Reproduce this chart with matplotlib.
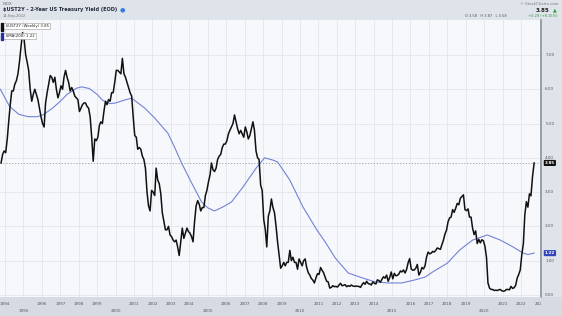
import matplotlib.pyplot as plt
import matplotlib.dates as mdates
from matplotlib.patches import Rectangle
import pandas as pd

# weekly close of the 2-year yield
start_month = "1993-10"
ust2y = [
    3.85, 4.10, 4.20,  # 1993
    4.15, 4.55, 5.05, 5.55, 5.95, 5.95, 6.15, 6.25, 6.45, 6.80, 7.25, 7.65,  # 1994
    7.45, 7.00, 6.80, 6.55, 6.00, 5.65, 5.85, 6.00, 5.85, 5.70, 5.45, 5.20,  # 1995
    5.00, 4.90, 5.60, 5.90, 6.15, 6.40, 6.35, 6.20, 6.35, 6.00, 5.75, 5.90,  # 1996
    6.10, 6.00, 6.35, 6.55, 6.35, 6.20, 5.95, 6.05, 5.95, 5.80, 5.75, 5.70,  # 1997
    5.35, 5.45, 5.55, 5.60, 5.60, 5.50, 5.45, 5.20, 4.60, 3.90, 4.55, 4.50,  # 1998
    4.60, 4.95, 5.05, 5.00, 5.35, 5.65, 5.55, 5.70, 5.65, 5.90, 5.90, 6.20,  # 1999
    6.55, 6.55, 6.50, 6.45, 6.90, 6.45, 6.35, 6.20, 6.05, 5.90, 5.80, 5.20,  # 2000
    4.65, 4.60, 4.25, 4.30, 4.25, 4.05, 3.95, 3.70, 3.00, 2.60, 2.45, 3.05,  # 2001
    3.00, 2.90, 3.70, 3.35, 3.25, 2.95, 2.40, 2.15, 1.90, 1.90, 2.00, 1.75,  # 2002
    1.70, 1.60, 1.55, 1.60, 1.40, 1.15, 1.55, 1.95, 1.65, 1.80, 1.95, 1.85,  # 2003
    1.80, 1.70, 1.55, 2.15, 2.60, 2.75, 2.65, 2.45, 2.55, 2.55, 2.90, 3.05,  # 2004
    3.30, 3.50, 3.85, 3.65, 3.60, 3.70, 3.95, 4.05, 4.10, 4.30, 4.40, 4.40,  # 2005
    4.50, 4.70, 4.80, 4.90, 5.00, 5.25, 5.05, 4.85, 4.70, 4.80, 4.70, 4.60,  # 2006
    4.90, 4.75, 4.55, 4.65, 4.85, 5.05, 4.80, 4.20, 4.00, 3.95, 3.20, 3.05,  # 2007
    2.20, 1.90, 1.40, 2.30, 2.45, 2.80, 2.55, 2.40, 2.00, 1.55, 1.15, 0.78,  # 2008
    0.85, 0.95, 0.85, 0.95, 0.95, 1.30, 1.00, 1.10, 0.95, 0.95, 0.75, 1.05,  # 2009
    0.95, 0.85, 1.00, 1.05, 0.80, 0.65, 0.58, 0.48, 0.43, 0.35, 0.50, 0.62,  # 2010
    0.60, 0.80, 0.72, 0.65, 0.52, 0.40, 0.38, 0.20, 0.22, 0.27, 0.24, 0.25,  # 2011
    0.23, 0.29, 0.34, 0.27, 0.28, 0.30, 0.24, 0.27, 0.25, 0.29, 0.26, 0.25,  # 2012
    0.26, 0.25, 0.25, 0.22, 0.30, 0.36, 0.31, 0.40, 0.33, 0.32, 0.29, 0.38,  # 2013
    0.34, 0.32, 0.44, 0.42, 0.37, 0.46, 0.53, 0.49, 0.58, 0.40, 0.51, 0.67,  # 2014
    0.47, 0.63, 0.56, 0.57, 0.61, 0.70, 0.67, 0.73, 0.64, 0.74, 0.94, 1.06,  # 2015
    0.76, 0.72, 0.73, 0.78, 0.89, 0.58, 0.66, 0.80, 0.76, 0.85, 1.11, 1.25,  # 2016
    1.20, 1.22, 1.27, 1.25, 1.30, 1.37, 1.35, 1.33, 1.47, 1.60, 1.78, 1.89,  # 2017
    2.14, 2.25, 2.27, 2.49, 2.41, 2.53, 2.67, 2.63, 2.82, 2.87, 2.92, 2.49,  # 2018
    2.46, 2.51, 2.27, 2.27, 1.95, 1.76, 1.87, 1.50, 1.62, 1.52, 1.61, 1.58,  # 2019
    1.42, 1.10, 0.35, 0.20, 0.16, 0.16, 0.13, 0.14, 0.13, 0.15, 0.16, 0.12,  # 2020
    0.11, 0.12, 0.16, 0.16, 0.15, 0.25, 0.19, 0.21, 0.28, 0.49, 0.60, 0.73,  # 2021
    1.18, 1.50, 2.33, 2.72, 2.56, 2.95, 2.89, 3.45, 3.85,  # 2022
]

# 200-week simple moving average (blue line)
sma_dates = [
    "1993-10-01", "1994-04-01", "1994-10-01", "1995-04-01", "1995-10-01",
    "1996-02-01", "1996-08-01", "1997-01-01", "1997-05-15", "1997-11-15",
    "1998-03-01", "1998-08-01", "1999-01-01", "1999-04-15", "1999-09-15",
    "2000-01-01", "2000-06-15", "2000-11-15", "2001-08-01", "2002-02-15",
    "2002-11-01", "2003-03-15", "2003-08-01", "2004-02-15", "2004-09-01",
    "2005-01-01", "2005-05-15", "2005-11-01", "2006-04-15", "2006-12-01",
    "2007-09-01", "2008-02-01", "2008-07-01", "2008-10-15", "2009-06-15",
    "2010-03-01", "2010-12-01", "2011-05-15", "2011-12-01", "2012-08-15",
    "2013-05-15", "2014-02-01", "2014-10-15", "2015-07-15", "2016-04-01",
    "2016-10-15", "2017-03-15", "2018-01-01", "2018-09-01", "2019-05-15",
    "2020-03-01", "2020-11-15", "2021-07-25", "2022-02-10", "2022-05-15",
    "2022-09-16",
]
sma200 = [
    6.00, 5.50, 5.27, 5.20, 5.20,
    5.26, 5.45, 5.65, 5.85, 6.03,
    6.07, 6.02, 5.85, 5.68, 5.58,
    5.60, 5.68, 5.74, 5.45, 5.16,
    4.72, 4.31, 3.85, 3.27, 2.71,
    2.54, 2.45, 2.57, 2.71, 3.15,
    3.73, 4.00, 3.94, 3.88, 3.35,
    2.57, 1.90, 1.55, 1.08, 0.64,
    0.50, 0.38, 0.35, 0.35, 0.44,
    0.52, 0.67, 0.93, 1.31, 1.60,
    1.75, 1.60, 1.40, 1.22, 1.18,
    1.22,
]

y_ticks = [0, 1, 2, 3, 4, 5, 6, 7]
years = list(range(1994, 2024))
last_close = 3.85
last_sma = 1.22

W, H = 562, 316
dates = pd.date_range(start_month + "-01", periods=len(ust2y), freq="MS") + pd.Timedelta(days=14)
dates = dates[:-1].append(pd.DatetimeIndex(["2022-09-16"]))
sma_x = pd.to_datetime(sma_dates)

x0, x1 = pd.Timestamp("1993-09-24"), pd.Timestamp("2023-01-30")
y0, y1 = -0.06, 8.02

fig = plt.figure(figsize=(W / 100, H / 100), dpi=100, facecolor="#dfe3ea")


def fx(px):
    return px / W


def fy(py):
    return 1 - py / H


# main price panel
ax = fig.add_axes([0, fy(297), fx(541), fy(20) - fy(297)])
ax.set_facecolor("#f7f8fc")
ax.set_xlim(x0, x1)
ax.set_ylim(y0, y1)
for y in y_ticks:
    ax.axhline(y, color="#e2e5ec", lw=0.6, zorder=0)
for yr in years:
    ax.axvline(pd.Timestamp(f"{yr}-01-01"), color="#e2e5ec", lw=0.6, zorder=0)
ax.axhline(last_close, color="#9a9a9a", lw=0.6, ls=(0, (1.5, 2)), zorder=1)
ax.plot(sma_x, sma200, color="#7382d4", lw=0.8, zorder=2)
ax.plot(dates, ust2y, color="#111111", lw=1.1, zorder=3)
ax.set_xticks([])
ax.set_yticks([])
for s in ["top", "left", "right"]:
    ax.spines[s].set_visible(False)
ax.spines["bottom"].set_color("#b8bec8")
ax.spines["bottom"].set_linewidth(0.6)

# legend chips
ax.text(0.004, 0.985, "   $UST2Y (Weekly) 3.85", transform=ax.transAxes, fontsize=2.8,
        va="top", ha="left", color="#222",
        bbox=dict(boxstyle="square,pad=0.25", fc="white", ec="#999", lw=0.4))
ax.text(0.004, 0.95, "   SMA(200) 1.22", transform=ax.transAxes, fontsize=2.8,
        va="top", ha="left", color="#222",
        bbox=dict(boxstyle="square,pad=0.25", fc="white", ec="#999", lw=0.4))
ax.add_patch(Rectangle((0.0015, 0.962), 0.004, 0.026, transform=ax.transAxes,
                       color="#111", zorder=5, clip_on=False))
ax.add_patch(Rectangle((0.0015, 0.927), 0.004, 0.026, transform=ax.transAxes,
                       color="#2233aa", zorder=5, clip_on=False))

# right scale panel
axr = fig.add_axes([fx(541), fy(297), fx(21), fy(20) - fy(297)])
axr.set_facecolor("#dfe3ea")
axr.set_ylim(y0, y1)
axr.set_xlim(0, 1)
axr.set_xticks([])
axr.set_yticks([])
for s in ["top", "right", "bottom"]:
    axr.spines[s].set_visible(False)
axr.spines["left"].set_color("#8c929c")
axr.spines["left"].set_linewidth(1.2)
for y in y_ticks:
    axr.text(0.2, y, f"{y:.2f}", fontsize=3.0, color="#555", va="center", ha="left")
axr.text(0.18, last_close, f"{last_close:.2f}", fontsize=3.0, color="white", va="center",
         ha="left", fontweight="bold",
         bbox=dict(boxstyle="round,pad=0.25", fc="#111", ec="none"))
axr.text(0.18, last_sma, f"{last_sma:.2f}", fontsize=3.0, color="white", va="center",
         ha="left", fontweight="bold",
         bbox=dict(boxstyle="round,pad=0.25", fc="#3344bb", ec="none"))

# bottom date band
axb = fig.add_axes([0, 0, fx(541), fy(297)])
axb.set_facecolor("#d6dbe3")
axb.set_xlim(x0, x1)
axb.set_ylim(0, 1)
axb.set_xticks([])
axb.set_yticks([])
for s in axb.spines.values():
    s.set_visible(False)
for yr in years:
    low = yr % 5 == 0
    axb.text(pd.Timestamp(f"{yr}-01-01"), 0.28 if low else 0.62, str(yr), fontsize=3.0,
             color="#555", ha="center", va="center", clip_on=True)
fig.patches.append(Rectangle((fx(541), 0), fx(21), fy(297), transform=fig.transFigure,
                             color="#d6dbe3", zorder=-1))

# header
fig.text(fx(3), fy(4), "INDX", fontsize=2.8, color="#666", va="center")
title = fig.text(fx(3), fy(10), "$UST2Y - 2-Year US Treasury Yield (EOD)", fontsize=3.6,
                 fontweight="bold", color="#222a3a", va="center")
fig.canvas.draw()
tb = title.get_window_extent()
fig.text(tb.x1 / W + fx(3), fy(10), "\u25cf", fontsize=4.5, color="#3a7be0", va="center")
fig.text(fx(3), fy(16), "14-Sep-2022", fontsize=2.6, color="#777", va="center")
fig.text(fx(559), fy(4), "\u00a9 StockCharts.com", fontsize=2.8, color="#777", va="center", ha="right")
fig.text(fx(549), fy(10), "3.85", fontsize=4.0, fontweight="bold", color="#222", va="center", ha="right")
fig.text(fx(557), fy(10), "\u25b2", fontsize=3.5, color="#2a9d3a", va="center", ha="right")
fig.text(fx(507), fy(16), "O 3.58   H 3.87   L 3.58", fontsize=2.6, color="#555", va="center", ha="right")
fig.text(fx(558), fy(16), "+0.29 (+8.15%)", fontsize=2.6, color="#2a9d3a", va="center", ha="right")

fig.savefig("out.png", dpi=100, facecolor=fig.get_facecolor())
